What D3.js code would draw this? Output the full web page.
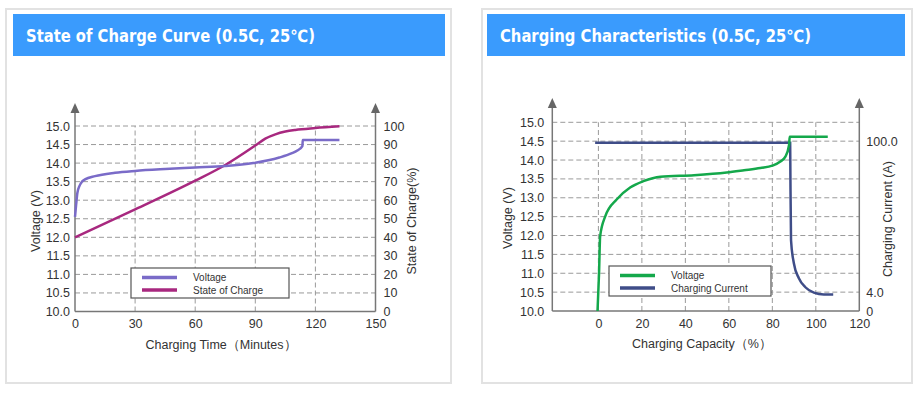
<!DOCTYPE html>
<html>
<head>
<meta charset="utf-8">
<script src="https://cdn.jsdelivr.net/npm/d3@7"></script>
<style>
  body { margin: 0; background: #fff; }
  svg { display: block; font-family: "Liberation Sans", Arial, sans-serif; }
</style>
</head>
<body>
<svg id="chart" width="922" height="396"></svg>
<script>
// ---- data: state of charge curve (time in minutes) ----
const timeTicks = [0, 30, 60, 90, 120, 150]
const voltTicks = [10, 10.5, 11, 11.5, 12, 12.5, 13, 13.5, 14, 14.5, 15]
const socTicks = [0, 10, 20, 30, 40, 50, 60, 70, 80, 90, 100]
const socVoltage = [
  [0, 12.55], [0.6, 12.9], [1.2, 13.2], [2.2, 13.38], [3.5, 13.5], [5, 13.56],
  [10, 13.65], [20, 13.74], [30, 13.79], [45, 13.84], [60, 13.88], [75, 13.92],
  [89, 14.0], [102, 14.15], [108, 14.26], [111, 14.34], [113.5, 14.46],
  [113.7, 14.62], [132, 14.62]
]
const socCharge = [
  [0, 40], [30, 55], [60, 70.5], [75, 79], [90, 89.5], [95, 93.2], [100, 95.5],
  [105, 97], [110, 97.9], [120, 98.9], [132, 99.8]
]

// ---- data: charging characteristics (capacity in %) ----
const capTicks = [0, 20, 40, 60, 80, 100, 120]
const currentTicks = [0, 4, 100]
const capVoltage = [
  [-0.4, 10.0], [0.3, 11.0], [0.8, 11.98], [3.1, 12.5], [8.5, 12.96], [14.6, 13.27],
  [20.7, 13.44], [28.5, 13.56], [44, 13.6], [59, 13.67], [67, 13.73], [74.5, 13.79],
  [80, 13.85], [83.7, 13.96], [86, 14.09], [87.7, 14.4], [88, 14.62], [105.5, 14.62]
]
const capCurrent = [
  [-1.5, 99], [88.2, 99], [88.3, 80], [88.6, 37], [89.9, 22.4], [92.2, 12.8],
  [95.2, 7.1], [99.1, 3.9], [103.7, 3.5], [108, 3.5]
]

const svg = d3.select("#chart")
const gridColor = "#9a9a9a"
const axisColor = "#777"
const textColor = "#333"

function drawPanel(x0, x1, headerX0, headerX1, title, titleWidth) {
  svg.append("rect")
    .attr("x", x0).attr("y", 9)
    .attr("width", x1 - x0).attr("height", 374)
    .attr("fill", "#fff")
    .attr("stroke", "#e2e2e2")
    .attr("stroke-width", 2)
  svg.append("rect")
    .attr("x", headerX0).attr("y", 14)
    .attr("width", headerX1 - headerX0).attr("height", 42)
    .attr("fill", "#3a9bfd")
  svg.append("text")
    .attr("x", headerX0 + 13).attr("y", 42)
    .attr("fill", "#fff")
    .attr("font-family", "'DejaVu Sans', Verdana, sans-serif")
    .attr("font-weight", "bold")
    .attr("font-size", 17)
    .attr("textLength", titleWidth)
    .attr("lengthAdjust", "spacingAndGlyphs")
    .text(title)
}

function drawFrame(g, x, yL, xGrid, yGrid, arrowTop) {
  const [xa, xb] = x.range()
  const ybot = yL(10), ytop = yL(15)

  g.selectAll(".hgrid").data(yGrid).join("line")
    .attr("x1", xa).attr("x2", xb)
    .attr("y1", d => yL(d)).attr("y2", d => yL(d))
    .attr("stroke", gridColor).attr("stroke-dasharray", "5,3")
  g.selectAll(".vgrid").data(xGrid).join("line")
    .attr("x1", d => x(d)).attr("x2", d => x(d))
    .attr("y1", ybot).attr("y2", ytop)
    .attr("stroke", gridColor).attr("stroke-dasharray", "5,3")

  // axis lines with arrows
  ;[xa, xb].forEach(ax => {
    g.append("line")
      .attr("x1", ax).attr("x2", ax)
      .attr("y1", ybot).attr("y2", arrowTop + 8)
      .attr("stroke", axisColor).attr("stroke-width", 1.5)
    g.append("path")
      .attr("d", `M${ax},${arrowTop}L${ax - 4.5},${arrowTop + 10}L${ax + 4.5},${arrowTop + 10}Z`)
      .attr("fill", "#666")
  })
  g.append("line")
    .attr("x1", xa).attr("x2", xb)
    .attr("y1", ybot).attr("y2", ybot)
    .attr("stroke", axisColor).attr("stroke-width", 1.5)
}

function styleAxis(sel) {
  sel.select(".domain").remove()
  sel.selectAll("text")
    .attr("fill", textColor)
    .attr("font-size", 12.5)
    .attr("font-family", "'Liberation Sans', Arial, sans-serif")
}

function drawLegend(g, bx, by, bw, items) {
  g.append("rect")
    .attr("x", bx).attr("y", by)
    .attr("width", bw).attr("height", 30)
    .attr("fill", "#fff")
    .attr("stroke", "#555").attr("stroke-width", 1.2)
  items.forEach((it, i) => {
    const yy = by + 9.5 + i * 12.5
    g.append("line")
      .attr("x1", bx + 11).attr("x2", bx + 46)
      .attr("y1", yy).attr("y2", yy)
      .attr("stroke", it.color).attr("stroke-width", 3.5)
    g.append("text")
      .attr("x", bx + 62).attr("y", yy + 3.5)
      .attr("fill", textColor)
      .attr("font-size", 10)
      .text(it.label)
  })
}

// ================= left panel =================
drawPanel(6, 451, 13, 445, "State of Charge Curve (0.5C, 25\u2103)", 289)

const gA = svg.append("g")
const xA = d3.scaleLinear().domain([0, 150]).range([75, 375.5])
const yA = d3.scaleLinear().domain([10, 15]).range([311.5, 126])
const yA2 = d3.scaleLinear().domain([0, 100]).range([311.5, 126])

drawFrame(gA, xA, yA, timeTicks.slice(1, -1), voltTicks.slice(1), 103)

gA.append("g").attr("transform", "translate(75,0)")
  .call(d3.axisLeft(yA).tickValues(voltTicks).tickFormat(d3.format(".1f")).tickSize(0).tickPadding(5))
  .call(styleAxis)
gA.append("g").attr("transform", "translate(375.5,0)")
  .call(d3.axisRight(yA2).tickValues(socTicks).tickSize(0).tickPadding(8))
  .call(styleAxis)
gA.append("g").attr("transform", "translate(0,311.5)")
  .call(d3.axisBottom(xA).tickValues(timeTicks).tickSize(0).tickPadding(8))
  .call(styleAxis)

const lineA = d3.line().x(d => xA(d[0])).y(d => yA(d[1])).curve(d3.curveMonotoneX)
const lineA2 = d3.line().x(d => xA(d[0])).y(d => yA2(d[1])).curve(d3.curveMonotoneX)
gA.append("path").datum(socCharge)
  .attr("d", lineA2).attr("fill", "none")
  .attr("stroke", "#a8287f").attr("stroke-width", 2.5)
gA.append("path").datum(socVoltage)
  .attr("d", lineA).attr("fill", "none")
  .attr("stroke", "#7a6bc8").attr("stroke-width", 2.5)

drawLegend(gA, 131, 268, 158, [
  { label: "Voltage", color: "#7a6bc8" },
  { label: "State of Charge", color: "#a8287f" }
])

gA.append("text")
  .attr("transform", "translate(40,221) rotate(-90)")
  .attr("text-anchor", "middle").attr("fill", textColor).attr("font-size", 12.5)
  .text("Voltage (V)")
gA.append("text")
  .attr("transform", "translate(416,221) rotate(-90)")
  .attr("text-anchor", "middle").attr("fill", textColor).attr("font-size", 12.5)
  .text("State of Charge(%)")
gA.append("text")
  .attr("x", 221).attr("y", 349)
  .attr("text-anchor", "middle").attr("fill", textColor).attr("font-size", 12.5)
  .text("Charging Time\uFF08Minutes\uFF09")

// ================= right panel =================
drawPanel(482, 912, 487, 905, "Charging Characteristics (0.5C, 25\u2103)", 311)

const gB = svg.append("g")
const xB = d3.scaleLinear().domain([-21.2, 120]).range([552.3, 859.3])
const yB = d3.scaleLinear().domain([10, 15]).range([311, 122.3])
const yB2 = d3.scaleLinear().domain([0, 4, 100]).range([yB(10), yB(10.5), yB(14.5)])

drawFrame(gB, xB, yB, capTicks.slice(0, -1), voltTicks.slice(1), 98)

gB.append("g").attr("transform", "translate(552.3,0)")
  .call(d3.axisLeft(yB).tickValues(voltTicks).tickFormat(d3.format(".1f")).tickSize(0).tickPadding(8))
  .call(styleAxis)
gB.append("g").attr("transform", "translate(859.3,0)")
  .call(d3.axisRight(yB2).tickValues(currentTicks).tickFormat(d => d === 0 ? "0" : d.toFixed(1)).tickSize(0).tickPadding(7))
  .call(styleAxis)
gB.append("g").attr("transform", "translate(0,311)")
  .call(d3.axisBottom(xB).tickValues(capTicks).tickSize(0).tickPadding(8))
  .call(styleAxis)

const lineB = d3.line().x(d => xB(d[0])).y(d => yB(d[1])).curve(d3.curveMonotoneX)
const lineB2 = d3.line().x(d => xB(d[0])).y(d => yB2(d[1])).curve(d3.curveMonotoneX)
gB.append("path").datum(capCurrent)
  .attr("d", lineB2).attr("fill", "none")
  .attr("stroke", "#3f4d88").attr("stroke-width", 2.5)
gB.append("path").datum(capVoltage)
  .attr("d", lineB).attr("fill", "none")
  .attr("stroke", "#14a84b").attr("stroke-width", 2.5)

drawLegend(gB, 609, 266, 162, [
  { label: "Voltage", color: "#14a84b" },
  { label: "Charging Current", color: "#3f4d88" }
])

gB.append("text")
  .attr("transform", "translate(512,218) rotate(-90)")
  .attr("text-anchor", "middle").attr("fill", textColor).attr("font-size", 12.5)
  .text("Voltage (V)")
gB.append("text")
  .attr("transform", "translate(892,219) rotate(-90)")
  .attr("text-anchor", "middle").attr("fill", textColor).attr("font-size", 12.5)
  .text("Charging Current (A)")
gB.append("text")
  .attr("x", 702).attr("y", 348)
  .attr("text-anchor", "middle").attr("fill", textColor).attr("font-size", 12.5)
  .text("Charging Capacity\uFF08%\uFF09")
</script>
</body>
</html>
